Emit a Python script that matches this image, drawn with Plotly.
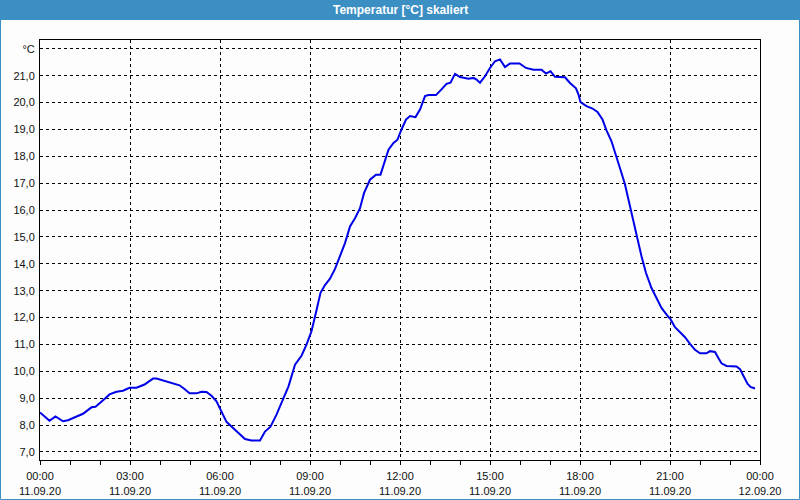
import pandas as pd
import plotly.graph_objects as go

# minutes after 11.09.20 00:00
minutes = [0, 19, 31, 46, 56, 73, 86, 103, 111, 129, 139, 153, 166, 179, 193, 209, 226, 233,
           249, 263, 279, 289, 299, 313, 323, 333, 343, 353, 362, 373, 384, 396, 410, 423,
           440, 450, 461, 473, 485, 497, 510, 523, 533, 543, 553, 561, 570, 580, 590, 599,
           610, 620, 630, 640, 648, 660, 672, 681, 690, 697, 707, 715, 723, 732, 740, 751,
           760, 770, 777, 792, 803, 813, 821, 830, 840, 857, 867, 873, 880, 890, 900, 910,
           920, 930, 940, 959, 972, 987, 1003, 1012, 1021, 1030, 1050, 1060, 1072, 1077,
           1081, 1093, 1105, 1115, 1125, 1133, 1143, 1153, 1163, 1170, 1180, 1187, 1195,
           1203, 1212, 1223, 1233, 1243, 1257, 1261, 1270, 1280, 1290, 1300, 1310, 1320,
           1333, 1340, 1350, 1357, 1363, 1373, 1393, 1400, 1408, 1415, 1421, 1430]
temps = [8.47, 8.16, 8.32, 8.14, 8.18, 8.30, 8.42, 8.66, 8.68, 8.97, 9.14, 9.24, 9.28, 9.39,
         9.39, 9.51, 9.73, 9.73, 9.65, 9.57, 9.48, 9.34, 9.18, 9.18, 9.24, 9.23, 9.09, 8.88,
         8.51, 8.12, 7.93, 7.72, 7.48, 7.43, 7.43, 7.76, 7.94, 8.39, 8.94, 9.44, 10.25, 10.58,
         10.99, 11.49, 12.27, 12.92, 13.21, 13.45, 13.81, 14.22, 14.77, 15.39, 15.70, 16.07,
         16.63, 17.13, 17.32, 17.32, 17.82, 18.25, 18.50, 18.62, 19.00, 19.37, 19.50, 19.46,
         19.74, 20.24, 20.28, 20.28, 20.49, 20.70, 20.74, 21.07, 20.95, 20.89, 20.92, 20.86,
         20.74, 20.98, 21.29, 21.54, 21.61, 21.32, 21.46, 21.46, 21.29, 21.22, 21.22, 21.08,
         21.17, 20.96, 20.94, 20.73, 20.53, 20.30, 20.02, 19.87, 19.78, 19.65, 19.37, 18.97,
         18.56, 18.00, 17.38, 16.95, 16.14, 15.52, 14.90, 14.28, 13.66, 13.10, 12.73, 12.36,
         12.02, 11.94, 11.64, 11.44, 11.27, 11.02, 10.80, 10.67, 10.67, 10.75, 10.72, 10.49,
         10.30, 10.20, 10.18, 10.08, 9.79, 9.54, 9.42, 9.36]

y_tick_vals = list(range(7, 23))
y_tick_text = [f"{v},0" for v in range(7, 22)] + ["°C"]
title_text = "Temperatur [°C] skaliert"

start = pd.Timestamp("2020-09-11 00:00")
times = [start + pd.Timedelta(minutes=m) for m in minutes]
end = start + pd.Timedelta(hours=24)

FONT = "Liberation Sans"
BLUE = "#3c8fc3"

fig = go.Figure()
fig.add_trace(go.Scatter(x=times, y=temps, mode="lines",
                         line=dict(color="#0000e8", width=2), showlegend=False,
                         hoverinfo="skip"))

L, R, T, B = 40, 40, 40, 40
W, H = 800, 500
pw, ph = W - L - R, H - T - B

def px_x(px):
    return (px - L) / pw

def px_y(py):
    return 1 - (py - T) / ph

fig.update_layout(
    width=W, height=H,
    margin=dict(l=L, r=R, t=T, b=B, pad=0, autoexpand=False),
    paper_bgcolor="#fcfdfc", plot_bgcolor="#fcfdfc",
    font=dict(family=FONT, size=11, color="#111111"),
    xaxis=dict(
        type="date", range=[start, end], automargin=False,
        tickvals=[start + pd.Timedelta(hours=h) for h in range(0, 25, 3)],
        tickformat="%H:%M<br>%d.%m.%y",
        ticks="outside", ticklen=4, tickcolor="black", tickwidth=1,
        ticklabelstandoff=2,
        minor=dict(dtick=3600000, ticks="outside", ticklen=4, tickcolor="black",
                   showgrid=False),
        showgrid=True, gridcolor="black", gridwidth=1, griddash="3px,3px",
        showline=True, linecolor="black", linewidth=1, mirror=True,
        zeroline=False, fixedrange=True,
    ),
    yaxis=dict(
        range=[6.7, 22.33], automargin=False,
        tickvals=y_tick_vals, ticktext=y_tick_text,
        ticks="", showgrid=True, gridcolor="black", gridwidth=1, griddash="3px,3px",
        showline=True, linecolor="black", linewidth=1, mirror=True,
        zeroline=False, fixedrange=True, ticklabelstandoff=2,
    ),
    shapes=[
        dict(type="rect", xref="paper", yref="paper",
             x0=px_x(0), x1=px_x(800), y0=px_y(20), y1=px_y(0),
             fillcolor=BLUE, line=dict(width=0), layer="below"),
        dict(type="rect", xref="paper", yref="paper",
             x0=px_x(0.5), x1=px_x(799.5), y0=px_y(499.5), y1=px_y(0.5),
             fillcolor="rgba(0,0,0,0)", line=dict(color=BLUE, width=1)),
    ],
    annotations=[
        dict(text=f"<b>{title_text}</b>", xref="paper", yref="paper",
             x=px_x(400), y=px_y(10), showarrow=False,
             font=dict(family=FONT, size=12, color="white"),
             xanchor="center", yanchor="middle"),
    ],
)

fig.write_html("out.html")
